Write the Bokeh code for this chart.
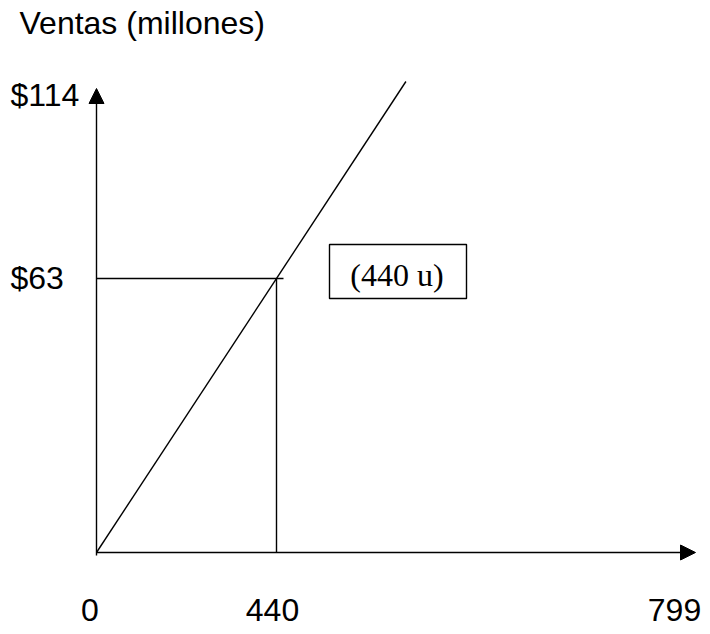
from bokeh.plotting import figure
from bokeh.models import Range1d, Arrow, NormalHead
from bokeh.core.properties import value
from bokeh.embed import file_html
from bokeh.resources import INLINE

# ---- data ----
axis_title = "Ventas (millones)"
x_tick_labels = ["0", "440", "799"]
y_tick_labels = ["$63", "$114"]
breakeven_units = 440
breakeven_sales = 63
breakeven_label = "(440 u)"

# ---- layout (schematic diagram, not to scale) ----
W, H = 702, 626
ox, oy = 96, 552          # origin in figure pixels
kx = 180 / 440            # px per unit
ky = 274 / 63             # px per million

def px2x(px):
    return (px - ox) / kx

def py2y(py):
    return (oy - py) / ky

x_axis_end = px2x(695)
y_axis_end = py2y(88)
line_top = py2y(81)
slope = breakeven_sales / breakeven_units

SANS = value("Liberation Sans")
SERIF = value("Liberation Serif")
FS = "32px"
LW = 1.4
DY = -12  # baseline correction

p = figure(width=W, height=H, output_backend="svg", toolbar_location=None,
           x_range=Range1d(px2x(0), px2x(W)), y_range=Range1d(py2y(H), py2y(0)),
           min_border=0, min_border_left=0, min_border_right=0,
           min_border_top=0, min_border_bottom=0)
p.axis.visible = False
p.grid.visible = False
p.outline_line_color = None

# axes with arrows
p.add_layout(Arrow(end=NormalHead(size=15, fill_color="black", line_color="black", line_width=1),
                   x_start=0, y_start=py2y(555), x_end=0, y_end=y_axis_end,
                   line_color="black", line_width=LW))
p.add_layout(Arrow(end=NormalHead(size=15, fill_color="black", line_color="black", line_width=1),
                   x_start=0, y_start=0, x_end=x_axis_end, y_end=0,
                   line_color="black", line_width=LW))

# sales line
p.line([0, line_top / slope], [0, line_top], line_color="black", line_width=LW)

# guide lines at break-even
p.line([0, px2x(283)], [breakeven_sales, breakeven_sales], line_color="black", line_width=LW)
p.line([breakeven_units, breakeven_units], [0, breakeven_sales], line_color="black", line_width=LW)

# label box
p.rect(x=[px2x(397.5)], y=[py2y(271)], width=137, height=54,
       width_units="screen", height_units="screen",
       fill_color=None, line_color="black", line_width=LW)
p.text(x=[breakeven_units], y=[breakeven_sales], text=[breakeven_label],
       x_offset=120.5, y_offset=8 + DY, text_align="center", text_baseline="alphabetic",
       text_font=SERIF, text_font_size="32px", text_color="black")

# axis title
p.text(x=[0], y=[y_axis_end], text=[axis_title], x_offset=-77, y_offset=-54 + DY,
       text_align="left", text_baseline="alphabetic",
       text_font=SANS, text_font_size=FS, text_color="black")

# y labels
p.text(x=[0, 0], y=[breakeven_sales, y_axis_end], text=y_tick_labels,
       x_offset=-86, y_offset=[11 + DY, 18 + DY], text_align="left", text_baseline="alphabetic",
       text_font=SANS, text_font_size=FS, text_color="black")

# x labels
p.text(x=[0, breakeven_units, x_axis_end], y=[0, 0, 0], text=x_tick_labels,
       x_offset=[-6.5, -4, -21], y_offset=69 + DY, text_align="center", text_baseline="alphabetic",
       text_font=SANS, text_font_size=FS, text_color="black")

open("out.html", "w").write(file_html(p, INLINE))
